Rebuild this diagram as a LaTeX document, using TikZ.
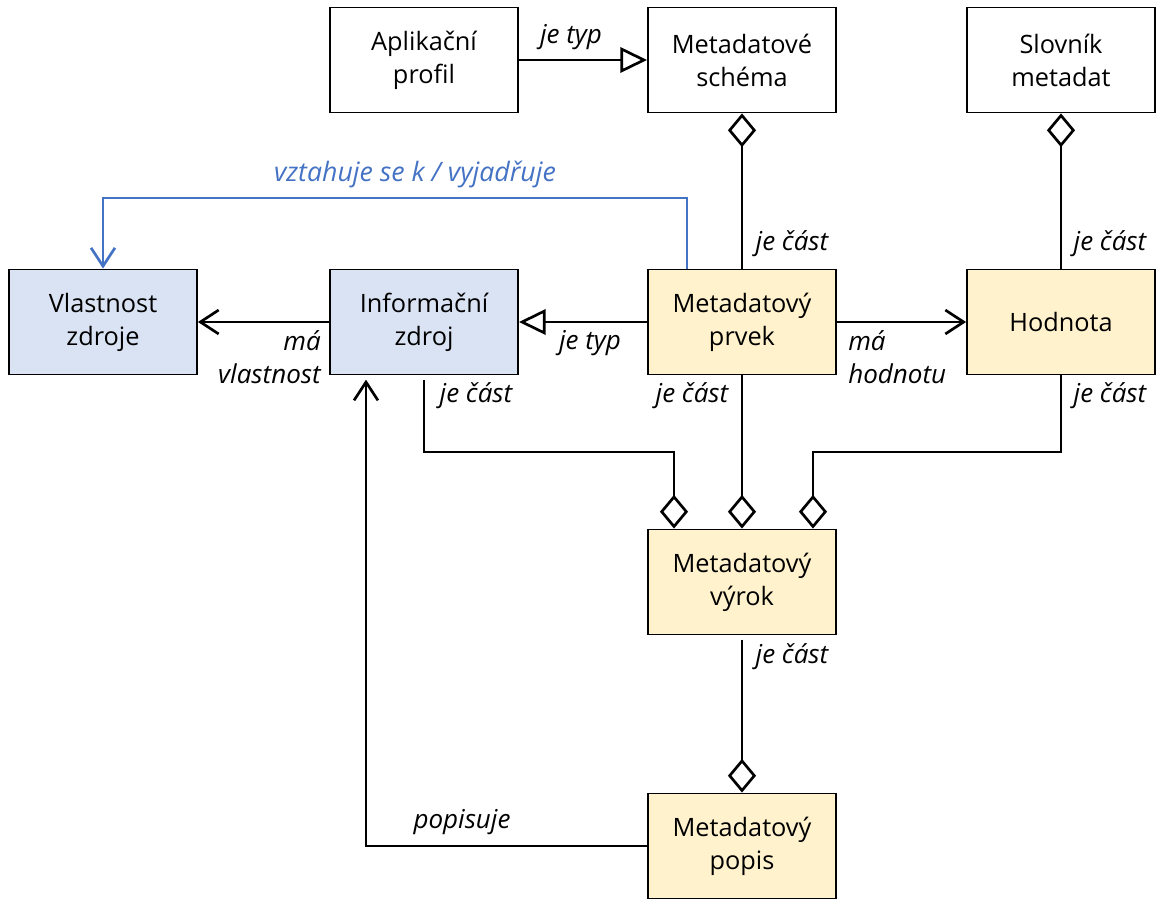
\documentclass[tikz,border=0pt]{standalone}
\usepackage{fontspec}
\setmainfont{Open Sans}
\usepackage{tikz}
\usetikzlibrary{arrows.meta}

\definecolor{modra}{HTML}{DAE3F3}
\definecolor{zluta}{HTML}{FFF2CC}
\definecolor{modracara}{HTML}{4472C4}

\tikzset{
	trida/.style={draw, line width=1.3pt, minimum width=4.7cm, minimum height=2.625cm, align=center, inner sep=0pt},
	popisek/.style={font=\fontsize{18.5}{24}\selectfont\itshape, inner sep=0pt},
	cara/.style={line width=1.9pt},
	celek/.style={cara, -{Diamond[open, length=24pt, width=20pt]}},
	typ/.style={cara, -{Triangle[open, length=19pt, width=18pt]}},
	vztah/.style={cara, -{Straight Barb[length=13pt, width=17pt]}}
}

\begin{document}
\begin{tikzpicture}[x=0.025cm, y=-0.025cm, font=\fontsize{18}{23.5}\selectfont]
		\useasboundingbox (0,0) rectangle (1160,905);
		%Třídy
		\node[trida] (apl) at (424,60) {Aplikační\\profil};
		\node[trida] (schema) at (742,60) {Metadatové\\schéma};
		\node[trida] (slovnik) at (1061,60) {Slovník\\metadat};
		\node[trida, fill=modra] (vlast) at (103,322) {Vlastnost\\zdroje};
		\node[trida, fill=modra] (info) at (424,322) {Informační\\zdroj};
		\node[trida, fill=zluta] (prvek) at (742,322) {Metadatový\\prvek};
		\node[trida, fill=zluta] (hodnota) at (1061,322) {Hodnota};
		\node[trida, fill=zluta] (vyrok) at (742,582) {Metadatový\\výrok};
		\node[trida, fill=zluta] (popis) at (742,846) {Metadatový\\popis};
		%Pomocné body
		\coordinate (k1) at (674,452);
		\coordinate (k2) at (813,452);
		\coordinate (k3) at (366,846);
		\coordinate (b1) at (687,198);
		%Vztahy
		\draw[typ] (apl) -- (schema);
		\draw[celek] (prvek.north) -- (schema.south);
		\draw[celek] (hodnota.north) -- (slovnik.south);
		\draw[vztah, modracara] (b1 |- prvek.north) -- (b1) -| (vlast.north);
		\draw[vztah] (info) -- (vlast);
		\draw[typ] (prvek) -- (info);
		\draw[vztah] (prvek) -- (hodnota);
		\draw[celek] ([yshift=-3pt]info.south) |- (k1) -- (k1 |- vyrok.north);
		\draw[celek] (prvek.south) -- (vyrok.north);
		\draw[celek] (hodnota.south) |- (k2) -- (k2 |- vyrok.north);
		\draw[celek] ([yshift=-3pt]vyrok.south) -- (popis.north);
		\draw[vztah] (popis.west) -| ([yshift=-3pt]k3 |- info.south);
		%Popisky
		\node[popisek] (l1) at (571,37) {je typ};
		\node[popisek] (l2) at (792,244) {je část};
		\node[popisek] (l3) at (1110,244) {je část};
		\node[popisek, text=modracara, font=\fontsize{19}{24}\selectfont\itshape] (l4) at (415,174) {vztahuje se k / vyjadřuje};
		\node[popisek, anchor=north east, align=right] (l5) at (321,330) {má\\vlastnost};
		\node[popisek] (l6) at (590,343) {je typ};
		\node[popisek, anchor=north west, align=left] (l7) at (848,330) {má\\hodnotu};
		\node[popisek] (l8) at (476,396) {je část};
		\node[popisek] (l9) at (692,396) {je část};
		\node[popisek] (l10) at (1110,396) {je část};
		\node[popisek] (l11) at (792,657) {je část};
		\node[popisek] (l12) at (462,822) {popisuje};
	\end{tikzpicture}
\end{document}
